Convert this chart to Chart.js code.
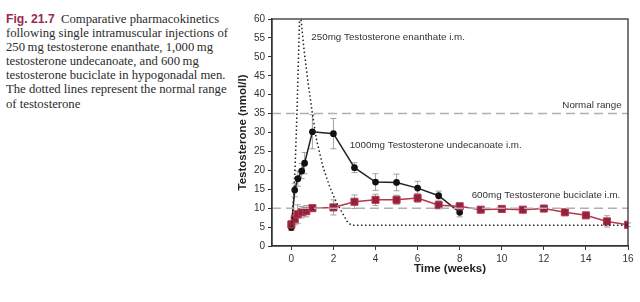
<!DOCTYPE html>
<html>
<head>
<meta charset="utf-8">
<script src="https://cdn.jsdelivr.net/npm/chart.js@4"></script>
<style>
  html, body { margin: 0; padding: 0; background: #fff; }
  body { width: 640px; height: 302px; position: relative; overflow: hidden; }
  #caption {
    position: absolute; left: 6px; top: 12px;
    font-family: "Liberation Serif", "DejaVu Serif", serif;
    font-size: 12.7px; line-height: 14.1px; color: #2b2b2b;
    white-space: nowrap;
  }
  #caption b {
    font-family: "Liberation Sans", Arial, sans-serif;
    font-size: 12.2px;
    color: #98294f; font-weight: bold; margin-right: 3px;
  }
  #wrap { position: absolute; left: 230px; top: 0; width: 410px; height: 302px; }
</style>
</head>
<body>
<div id="caption">
  <b>Fig. 21.7</b> Comparative pharmacokinetics<br>
  following single intramuscular injections of<br>
  250&#8201;mg testosterone enanthate, 1,000&#8201;mg<br>
  testosterone undecanoate, and 600&#8201;mg<br>
  testosterone buciclate in hypogonadal men.<br>
  The dotted lines represent the normal range<br>
  of testosterone
</div>
<div id="wrap"><canvas id="chart" width="410" height="302"></canvas></div>
<script>
// values (weeks / nmol/l)
const xTicks = [0, 2, 4, 6, 8, 10, 12, 14, 16];
const yTicks = [0, 5, 10, 15, 20, 25, 30, 35, 40, 45, 50, 55, 60];
const normalRange = [10, 35];

const undecTimes = [0, 0.16, 0.31, 0.49, 0.63, 1, 2, 3, 4, 5, 6, 7, 8];
const undecValues = [4.9, 14.8, 17.8, 19.8, 21.9, 30.2, 29.7, 20.7, 16.9, 16.8, 15.3, 13.3, 8.9];
const undecErr = [0.8, 1.8, 2.0, 2.0, 2.8, 4.5, 4.0, 1.3, 2.2, 2.2, 1.8, 1.2, 1.2];

const bucTimes = [0, 0.16, 0.3, 0.49, 0.71, 1, 2, 3, 4, 5, 6, 7, 8, 9, 10, 11, 12, 13, 14, 15, 16];
const bucValues = [5.7, 7.1, 8.4, 8.9, 9.2, 10.0, 10.2, 11.7, 12.2, 12.2, 12.7, 10.8, 10.5, 9.6, 9.8, 9.6, 9.9, 8.9, 8.1, 6.5, 5.6];
const bucErr = [1.0, 1.5, 2.5, 1.5, 1.5, 0.8, 2.0, 1.8, 1.5, 1.2, 1.2, 0.8, 0.8, 0.6, 0.6, 0.6, 0.6, 0.8, 0.6, 1.5, 0.5];

const enanTimes = [0, 0.12, 0.2, 0.27, 0.33, 0.39, 0.42, 0.6, 0.8, 1.0, 1.2, 1.5, 1.8, 2.1, 2.4, 2.65, 2.85, 16];
const enanValues = [4, 14, 24, 36, 48, 60, 62, 52, 43, 35, 28, 21, 16, 12, 9, 6.5, 5.5, 5.5];

const labels = [
    { text: '250mg Testosterone enanthate i.m.', x: 0.95, y: 55.1, align: 'left' },
    { text: 'Normal range', x: 15.7, y: 37.1, align: 'right' },
    { text: '1000mg Testosterone undecanoate i.m.', x: 2.77, y: 26.5, align: 'left' },
    { text: '600mg Testosterone buciclate i.m.', x: 8.57, y: 13.3, align: 'left' }
];

const xMin = -0.92, xMax = 16;
const pts = (xs, ys) => xs.map((x, i) => ({ x, y: ys[i] }));
const FONT = '"Liberation Sans", Arial, sans-serif';

// error bars + frame + text labels
const extras = {
    id: 'extras',
    beforeDatasetsDraw(chart) {
        const { ctx, scales: { x, y } } = chart;
        ctx.save();
        ctx.strokeStyle = '#a0a0a0';
        ctx.lineWidth = 1;
        [[undecTimes, undecValues, undecErr], [bucTimes, bucValues, bucErr]].forEach(([ts, vs, es]) => {
            ts.forEach((t, i) => {
                const px = x.getPixelForValue(t);
                const top = y.getPixelForValue(vs[i] + es[i]);
                const bot = y.getPixelForValue(vs[i] - es[i]);
                ctx.beginPath();
                ctx.moveTo(px, top); ctx.lineTo(px, bot);
                ctx.moveTo(px - 3, top); ctx.lineTo(px + 3, top);
                ctx.moveTo(px - 3, bot); ctx.lineTo(px + 3, bot);
                ctx.stroke();
            });
        });
        ctx.restore();
    },
    afterDraw(chart) {
        const { ctx, chartArea: a, scales: { x, y } } = chart;
        ctx.save();
        ctx.strokeStyle = '#333';
        ctx.lineWidth = 1.3;
        ctx.strokeRect(a.left, a.top, a.right - a.left, a.bottom - a.top);
        ctx.fillStyle = '#333';
        ctx.font = '9.8px ' + FONT;
        ctx.textBaseline = 'middle';
        labels.forEach(l => {
            ctx.textAlign = l.align;
            ctx.fillText(l.text, x.getPixelForValue(l.x), y.getPixelForValue(l.y));
        });
        ctx.restore();
    }
};

const ctx = document.getElementById('chart').getContext('2d');
new Chart(ctx, {
    type: 'line',
    data: {
        datasets: [
            ...normalRange.map(v => ({
                data: [{ x: xMin, y: v }, { x: xMax, y: v }],
                borderColor: '#b0b0b0',
                borderWidth: 1.5,
                borderDash: [9, 5],
                pointRadius: 0
            })),
            {
                data: pts(enanTimes, enanValues),
                borderColor: '#222',
                borderWidth: 1.5,
                borderDash: [1.5, 2.5],
                pointRadius: 0,
                tension: 0
            },
            {
                data: pts(bucTimes, bucValues),
                borderColor: '#b8374f',
                borderWidth: 1.5,
                pointStyle: 'rect',
                pointRadius: 5,
                pointBackgroundColor: '#93213a',
                pointBorderColor: '#b8374f',
                pointBorderWidth: 1
            },
            {
                data: pts(undecTimes, undecValues),
                borderColor: '#222',
                borderWidth: 1.5,
                pointRadius: 2.6,
                pointBackgroundColor: '#111',
                pointBorderColor: '#111'
            }
        ]
    },
    options: {
        animation: false,
        responsive: false,
        events: [],
        layout: { padding: { top: 19, right: 12, left: 0, bottom: 0 } },
        plugins: { legend: { display: false }, tooltip: { enabled: false } },
        scales: {
            x: {
                type: 'linear',
                min: xMin,
                max: xMax,
                afterBuildTicks: s => { s.ticks = xTicks.map(v => ({ value: v })); },
                afterFit: s => { s.height = 56; },
                grid: { drawOnChartArea: false, tickLength: 4, color: '#333', tickWidth: 1 },
                border: { color: '#333', width: 1.3 },
                ticks: { color: '#333', padding: 3, maxRotation: 0, font: { family: FONT, size: 10 } },
                title: {
                    display: true, text: 'Time (weeks)', color: '#222',
                    font: { family: FONT, size: 11.5, weight: 'bold' },
                    padding: { top: 0, bottom: 26 }
                }
            },
            y: {
                min: 0,
                max: 60,
                afterBuildTicks: s => { s.ticks = yTicks.map(v => ({ value: v })); },
                afterFit: s => { s.width = 42; },
                grid: { drawOnChartArea: false, tickLength: 4, color: '#333', tickWidth: 1 },
                border: { color: '#333', width: 1.3 },
                ticks: { color: '#333', padding: 3, font: { family: FONT, size: 10 } },
                title: {
                    display: true, text: 'Testosterone (nmol/l)', color: '#222',
                    font: { family: FONT, size: 11.5, weight: 'bold' },
                    padding: { top: 6, bottom: 0 }
                }
            }
        }
    },
    plugins: [extras]
});
</script>
</body>
</html>
